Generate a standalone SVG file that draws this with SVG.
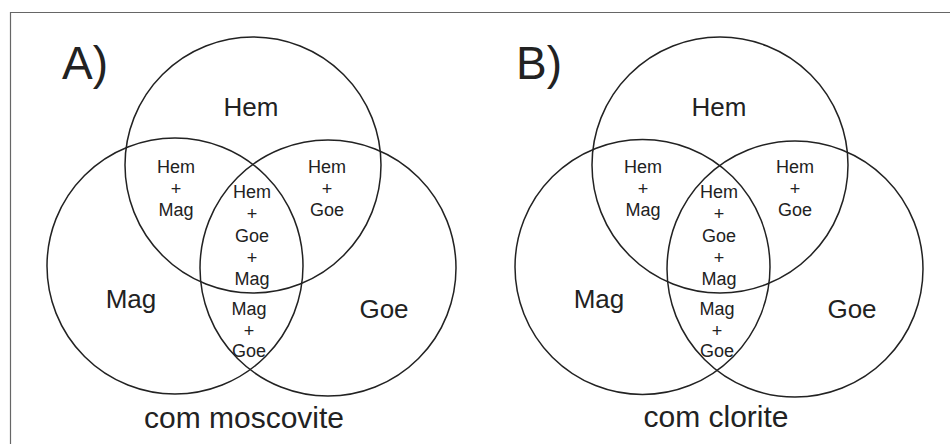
<svg xmlns="http://www.w3.org/2000/svg" width="950" height="444" viewBox="0 0 950 444">
<style>
.c{fill:none;stroke:#222;stroke-width:1.5}
text{font-family:"Liberation Sans",Arial,sans-serif;fill:#222;text-anchor:middle}
.t{font-size:46px;text-anchor:start}
.b{font-size:26px}
.s{font-size:18px}
.cap{font-size:30px}
</style>
<rect width="950" height="444" fill="#fff"/>
<path d="M10.5,444 V12.5 H950" fill="none" stroke="#666" stroke-width="1.2"/>
<g id="panelA">
<text class="t" x="62" y="79">A)</text>
<g id="A-hem"><circle class="c" cx="253" cy="165" r="128"/><text class="b" x="251" y="116">Hem</text></g>
<g id="A-mag"><circle class="c" cx="175" cy="266" r="128"/><text class="b" x="131" y="308">Mag</text></g>
<g id="A-goe"><circle class="c" cx="328" cy="268" r="128"/><text class="b" x="384" y="318">Goe</text></g>
<g id="A-hm"><text class="s" x="176" y="173">Hem</text><text class="s" x="176" y="195">+</text><text class="s" x="176" y="216">Mag</text></g>
<g id="A-hg"><text class="s" x="327" y="173">Hem</text><text class="s" x="327" y="195">+</text><text class="s" x="327" y="216">Goe</text></g>
<g id="A-hgm"><text class="s" x="252" y="198">Hem</text><text class="s" x="252" y="220">+</text><text class="s" x="252" y="242">Goe</text><text class="s" x="252" y="264">+</text><text class="s" x="252" y="285">Mag</text></g>
<g id="A-mg"><text class="s" x="249" y="315">Mag</text><text class="s" x="249" y="337">+</text><text class="s" x="249" y="357">Goe</text></g>
<text class="cap" x="244" y="428">com moscovite</text>
</g>
<g id="panelB">
<text class="t" x="516" y="79">B)</text>
<g id="B-hem"><circle class="c" cx="720" cy="165" r="128"/><text class="b" x="719" y="116">Hem</text></g>
<g id="B-mag"><circle class="c" cx="642.5" cy="267" r="127.5"/><text class="b" x="599" y="308">Mag</text></g>
<g id="B-goe"><circle class="c" cx="795" cy="269" r="128"/><text class="b" x="852" y="318">Goe</text></g>
<g id="B-hm"><text class="s" x="643" y="173">Hem</text><text class="s" x="643" y="195">+</text><text class="s" x="643" y="216">Mag</text></g>
<g id="B-hg"><text class="s" x="795" y="173">Hem</text><text class="s" x="795" y="195">+</text><text class="s" x="795" y="216">Goe</text></g>
<g id="B-hgm"><text class="s" x="719" y="198">Hem</text><text class="s" x="719" y="220">+</text><text class="s" x="719" y="242">Goe</text><text class="s" x="719" y="264">+</text><text class="s" x="719" y="285">Mag</text></g>
<g id="B-mg"><text class="s" x="717" y="315">Mag</text><text class="s" x="717" y="337">+</text><text class="s" x="717" y="357">Goe</text></g>
<text class="cap" x="716" y="427">com clorite</text>
</g>
<g id="connectors"/>
</svg>
